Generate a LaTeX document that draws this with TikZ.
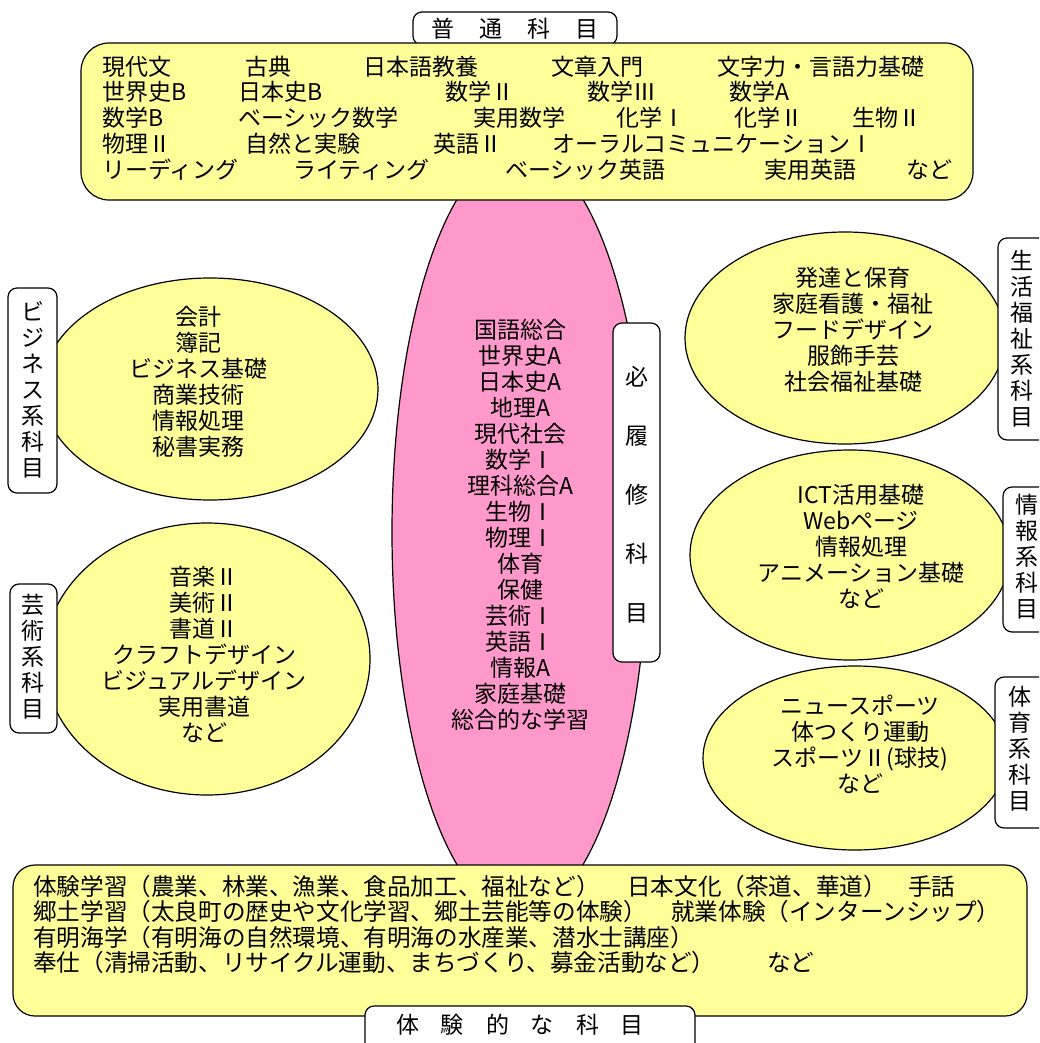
\documentclass[tikz,border=0pt]{standalone}
\usepackage{fontspec}
\setmainfont{Noto Sans CJK JP}
\definecolor{yelc}{HTML}{FFFF99}
\definecolor{pinkc}{HTML}{FF99CC}
\begin{document}
\begin{tikzpicture}[x=1pt,y=-1pt,
  every node/.style={inner sep=0pt, font=\fontsize{23}{26}\selectfont},
  yel/.style={fill=yelc, draw=black, line width=1.2pt},
  lab/.style={fill=white, draw=black, line width=1.2pt, rounded corners=9pt},
  tx/.style={anchor=base west},
  btx/.style={anchor=base west, font=\fontsize{23.6}{26}\selectfont},
  stack/.style={align=center},
]
\useasboundingbox (0,0) rectangle (1039,1043);
\begin{scope}
\clip (0,0) rectangle (1039,1043);
% central required ellipse
\filldraw[fill=pinkc, line width=1.2pt] (520,532) ellipse [x radius=128, y radius=382];
% side ellipses
\filldraw[yel] (210,389) ellipse [x radius=168, y radius=111];
\filldraw[yel] (207,659) ellipse [x radius=163, y radius=136];
\filldraw[yel] (845,338) ellipse [x radius=160, y radius=106];
\filldraw[yel] (850,555) ellipse [x radius=160, y radius=105];
\filldraw[yel] (855,758) ellipse [x radius=152, y radius=92];
% top general box
\draw[lab] (413,12) rectangle (617,45);
\node (genl) at (515,28.5) {普\hspace{25pt}通\hspace{25pt}科\hspace{25pt}目};
\draw[yel, rounded corners=28pt] (81,43) rectangle (973,200);
% line 1
\node[tx] (g11) at (102,75.5) {現代文};
\node[tx] (g12) at (245,75.5) {古典};
\node[tx] (g13) at (363,75.5) {日本語教養};
\node[tx] (g14) at (551,75.5) {文章入門};
\node[tx] (g15) at (717,75.5) {文字力・言語力基礎};
% line 2
\node[tx] (g21) at (102,100.5) {世界史B};
\node[tx] (g22) at (238,100.5) {日本史B};
\node[tx] (g23) at (445,100.5) {数学Ⅱ};
\node[tx] (g24) at (587,100.5) {数学Ⅲ};
\node[tx] (g25) at (729,100.5) {数学A};
% line 3
\node[tx] (g31) at (102,126.5) {数学B};
\node[tx] (g32) at (238,126.5) {ベーシック数学};
\node[tx] (g33) at (473,126.5) {実用数学};
\node[tx] (g34) at (616,126.5) {化学Ⅰ};
\node[tx] (g35) at (734,126.5) {化学Ⅱ};
\node[tx] (g36) at (852,126.5) {生物Ⅱ};
% line 4
\node[tx] (g41) at (102,152.5) {物理Ⅱ};
\node[tx] (g42) at (245,152.5) {自然と実験};
\node[tx] (g43) at (433,152.5) {英語Ⅱ};
\node[tx] (g44) at (552,152.5) {オーラルコミュニケーションⅠ};
% line 5
\node[tx] (g51) at (102,178.5) {リーディング};
\node[tx] (g52) at (293,178.5) {ライティング};
\node[tx] (g53) at (505,178.5) {ベーシック英語};
\node[tx] (g54) at (764,178.5) {実用英語};
\node[tx] (g55) at (906,178.5) {など};
% bottom experiential box
\draw[yel, rounded corners=22pt] (13,865) rectangle (1027,1016);
\node[btx] (e11) at (33,895.5) {体験学習（農業、林業、漁業、食品加工、福祉など）};
\node[btx] (e12) at (627,895.5) {日本文化（茶道、華道）};
\node[btx] (e13) at (908,895.5) {手話};
\node[btx] (e21) at (33,920.5) {郷土学習（太良町の歴史や文化学習、郷土芸能等の体験）};
\node[btx] (e22) at (671,920.5) {就業体験（インターンシップ）};
\node[btx] (e31) at (33,946.5) {有明海学（有明海の自然環境、有明海の水産業、潜水士講座）};
\node[btx] (e41) at (33,971.5) {奉仕（清掃活動、リサイクル運動、まちづくり、募金活動など）};
\node[btx] (e42) at (767,971.5) {など};
\draw[lab] (365,1006) rectangle (695,1060);
\node (expl) at (520,1025) {体\hspace{22pt}験\hspace{22pt}的\hspace{22pt}な\hspace{22pt}科\hspace{22pt}目};
% ellipse texts
\node[stack] (reqt) at (520,524.5) {国語総合\\世界史A\\日本史A\\地理A\\現代社会\\数学Ⅰ\\理科総合A\\生物Ⅰ\\物理Ⅰ\\体育\\保健\\芸術Ⅰ\\英語Ⅰ\\情報A\\家庭基礎\\総合的な学習};
\node[stack] (bizt) at (198,382) {会計\\簿記\\ビジネス基礎\\商業技術\\情報処理\\秘書実務};
\node[stack] (artt) at (204,654) {音楽Ⅱ\\美術Ⅱ\\書道Ⅱ\\クラフトデザイン\\ビジュアルデザイン\\実用書道\\など};
\node[stack] (lift) at (853,330) {発達と保育\\家庭看護・福祉\\フードデザイン\\服飾手芸\\社会福祉基礎};
\node[stack] (inft) at (861,546.5) {ICT活用基礎\\Webページ\\情報処理\\アニメーション基礎\\など};
\node[stack] (spot) at (860,744.5) {ニュースポーツ\\体つくり運動\\スポーツⅡ(球技)\\など};
% side labels
\draw[lab] (8,288) rectangle (57,493);
\node[stack] (bizl) at (33,390) {ビ\\ジ\\ネ\\ス\\系\\科\\目};
\draw[lab] (10,584) rectangle (57,733);
\node[stack] (artl) at (33,656.5) {芸\\術\\系\\科\\目};
\draw[lab] (998,238) rectangle (1055,440);
\node[stack] (lifl) at (1022,338.5) {生\\活\\福\\祉\\系\\科\\目};
\draw[lab] (1003,487) rectangle (1055,632);
\node[stack] (infl) at (1027,557) {情\\報\\系\\科\\目};
\draw[lab] (995,677) rectangle (1055,828);
\node[stack] (spol) at (1020,748.5) {体\\育\\系\\科\\目};
\draw[lab] (613,323) rectangle (660,662);
\node[stack, font=\fontsize{23}{59}\selectfont] (reql) at (637,495) {必\\履\\修\\科\\目};
\end{scope}
\end{tikzpicture}
\end{document}
